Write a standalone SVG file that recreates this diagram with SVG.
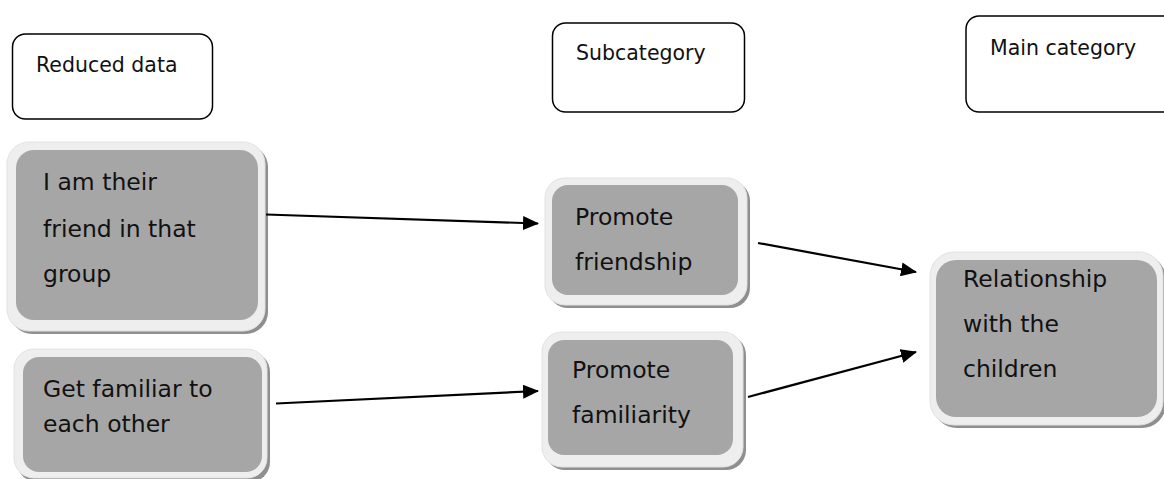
<svg xmlns="http://www.w3.org/2000/svg" width="1164" height="479" viewBox="0 0 1164 479">
<style>
.hdr{fill:#fff;stroke:#000;stroke-width:1.5}
.ht{font-family:"DejaVu Sans",sans-serif;font-size:20.5px;fill:#111}
.sh{fill:#8f8f8f}
.lt{fill:#eeeeee;stroke:#e2e2e2;stroke-width:1}
.gr{fill:#a6a6a6}
.gt{font-family:"DejaVu Sans",sans-serif;font-size:23.5px;fill:#111}
.con{stroke:#000;stroke-width:2.2;fill:none;marker-end:url(#ah)}
</style>
<defs>
<marker id="ah" markerWidth="16" markerHeight="14" refX="15" refY="7" orient="auto" markerUnits="userSpaceOnUse">
<path d="M0,0 L16,7 L0,14 Z" fill="#000"/>
</marker>
</defs>
<rect width="1164" height="479" fill="#fff"/>
<g id="h1"><rect class="hdr" x="12.5" y="34" width="200" height="85" rx="13"/><text class="ht" x="36" y="72">Reduced data</text></g>
<g id="h2"><rect class="hdr" x="552.5" y="23" width="192" height="89" rx="13"/><text class="ht" x="576" y="60">Subcategory</text></g>
<g id="h3"><rect class="hdr" x="966" y="16" width="210" height="96" rx="13"/><text class="ht" x="990" y="55">Main category</text></g>
<g id="n1"><rect class="sh" x="10" y="145" width="258" height="189" rx="22"/><rect class="lt" x="7" y="142" width="258" height="189" rx="22"/><rect class="gr" x="16" y="150" width="242" height="170" rx="18"/>
<text class="gt" x="43" y="190">I am their</text><text class="gt" x="43" y="237">friend in that</text><text class="gt" x="43" y="282">group</text></g>
<g id="n2"><rect class="sh" x="17" y="352" width="253" height="130" rx="20"/><rect class="lt" x="14" y="349" width="253" height="129" rx="20"/><rect class="gr" x="23" y="357" width="239" height="115" rx="16"/>
<text class="gt" x="43" y="397">Get familiar to</text><text class="gt" x="43" y="432">each other</text></g>
<g id="n3"><rect class="sh" x="548" y="181" width="202" height="127" rx="20"/><rect class="lt" x="545" y="178" width="202" height="127" rx="20"/><rect class="gr" x="552" y="185" width="186" height="110" rx="16"/>
<text class="gt" x="575" y="225">Promote</text><text class="gt" x="575" y="270">friendship</text></g>
<g id="n4"><rect class="sh" x="545" y="335" width="201" height="135" rx="20"/><rect class="lt" x="542" y="332" width="201" height="135" rx="20"/><rect class="gr" x="548" y="340" width="185" height="115" rx="16"/>
<text class="gt" x="572" y="378">Promote</text><text class="gt" x="572" y="423">familiarity</text></g>
<g id="n5"><rect class="sh" x="933" y="255" width="233" height="173" rx="24"/><rect class="lt" x="930" y="252" width="233" height="173" rx="24"/><rect class="gr" x="936" y="260" width="221" height="157" rx="20"/>
<text class="gt" x="963" y="287">Relationship</text><text class="gt" x="963" y="332">with the</text><text class="gt" x="963" y="377">children</text></g>
<g id="connectors">
<line class="con" x1="266" y1="214.5" x2="538" y2="223.5"/>
<line class="con" x1="276" y1="403.5" x2="538" y2="391"/>
<line class="con" x1="758" y1="243" x2="916" y2="272"/>
<line class="con" x1="748" y1="397" x2="916" y2="352"/>
</g>
</svg>
